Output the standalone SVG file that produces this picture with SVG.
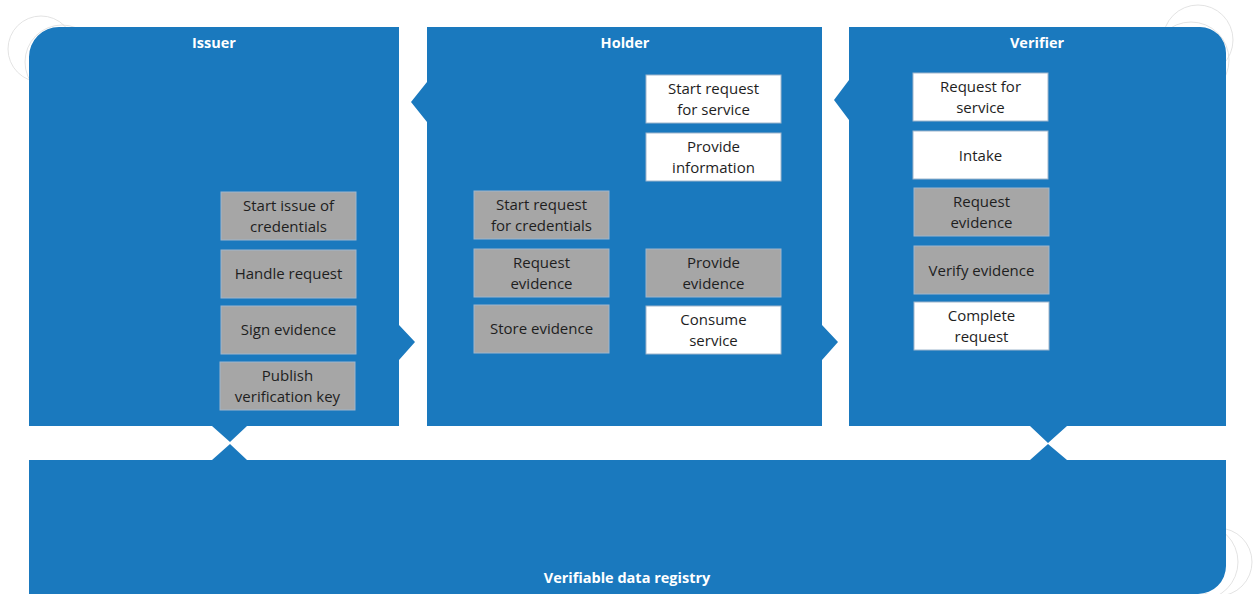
<svg xmlns="http://www.w3.org/2000/svg" width="1253" height="594" viewBox="0 0 1253 594">
  <style>
    .panel { fill: #1a79be; }
    .ghost { fill: none; stroke: #dcdcdc; stroke-width: 0.8; }
    .title { font-family: "Open Sans", "Liberation Sans", sans-serif; font-size: 14.5px; font-weight: bold; fill: #ffffff; text-anchor: middle; }
    .step { stroke: #9fb6cc; stroke-width: 1; }
    .grey { fill: #a6a6a6; }
    .white { fill: #ffffff; }
    .label { font-family: "Open Sans", "Liberation Sans", sans-serif; font-size: 15px; fill: #1e1e1e; text-anchor: middle; }
  </style>

  <rect width="1253" height="594" fill="#ffffff"/>

  <!-- faint corner outlines -->
  <g id="corner-outlines">
    <circle class="ghost" cx="41" cy="49" r="33"/>
    <circle class="ghost" cx="62" cy="62" r="37"/>
    <circle class="ghost" cx="1198" cy="40" r="35"/>
    <circle class="ghost" cx="1191" cy="60" r="38"/>
    <circle class="ghost" cx="1218" cy="562" r="34"/>
    <circle class="ghost" cx="1200" cy="562" r="38"/>
  </g>

  <!-- Issuer -->
  <g id="issuer">
    <path class="panel" d="M29,57 A30,30 0 0 1 59,27 L399,27 L399,325 L415,342 L399,360 L399,426 L247,426 L230,442 L212,426 L29,426 Z"/>
    <text class="title" x="214" y="48">Issuer</text>
    <g id="issuer-start">
      <rect class="step grey" x="221" y="192" width="135" height="48"/>
      <text class="label" x="288.5" y="211">Start issue of</text>
      <text class="label" x="288.5" y="232">credentials</text>
    </g>
    <g id="issuer-handle">
      <rect class="step grey" x="221" y="250" width="135" height="48"/>
      <text class="label" x="288.5" y="279">Handle request</text>
    </g>
    <g id="issuer-sign">
      <rect class="step grey" x="221" y="306" width="135" height="48"/>
      <text class="label" x="288.5" y="335">Sign evidence</text>
    </g>
    <g id="issuer-publish">
      <rect class="step grey" x="220" y="362" width="135" height="48"/>
      <text class="label" x="287.5" y="381">Publish</text>
      <text class="label" x="287.5" y="402">verification key</text>
    </g>
  </g>

  <!-- Holder -->
  <g id="holder">
    <path class="panel" d="M427,27 L822,27 L822,325 L838,342 L822,360 L822,426 L427,426 L427,122 L411,102 L427,82 Z"/>
    <text class="title" x="625" y="48">Holder</text>
    <g id="holder-start-service">
      <rect class="step white" x="646" y="75" width="135" height="48"/>
      <text class="label" x="713.5" y="94">Start request</text>
      <text class="label" x="713.5" y="115">for service</text>
    </g>
    <g id="holder-provide-info">
      <rect class="step white" x="646" y="133" width="135" height="48"/>
      <text class="label" x="713.5" y="152">Provide</text>
      <text class="label" x="713.5" y="173">information</text>
    </g>
    <g id="holder-start-credentials">
      <rect class="step grey" x="474" y="191" width="135" height="48"/>
      <text class="label" x="541.5" y="210">Start request</text>
      <text class="label" x="541.5" y="231">for credentials</text>
    </g>
    <g id="holder-request-evidence">
      <rect class="step grey" x="474" y="249" width="135" height="48"/>
      <text class="label" x="541.5" y="268">Request</text>
      <text class="label" x="541.5" y="289">evidence</text>
    </g>
    <g id="holder-store-evidence">
      <rect class="step grey" x="474" y="305" width="135" height="48"/>
      <text class="label" x="541.5" y="334">Store evidence</text>
    </g>
    <g id="holder-provide-evidence">
      <rect class="step grey" x="646" y="249" width="135" height="48"/>
      <text class="label" x="713.5" y="268">Provide</text>
      <text class="label" x="713.5" y="289">evidence</text>
    </g>
    <g id="holder-consume">
      <rect class="step white" x="646" y="306" width="135" height="48"/>
      <text class="label" x="713.5" y="325">Consume</text>
      <text class="label" x="713.5" y="346">service</text>
    </g>
  </g>

  <!-- Verifier -->
  <g id="verifier">
    <path class="panel" d="M849,27 L1200,27 A26,26 0 0 1 1226,53 L1226,426 L1067,426 L1048,443 L1030,426 L849,426 L849,120 L834,100 L849,80 Z"/>
    <text class="title" x="1037" y="48">Verifier</text>
    <g id="verifier-request-service">
      <rect class="step white" x="913" y="73" width="135" height="48"/>
      <text class="label" x="980.5" y="92">Request for</text>
      <text class="label" x="980.5" y="113">service</text>
    </g>
    <g id="verifier-intake">
      <rect class="step white" x="913" y="131" width="135" height="48"/>
      <text class="label" x="980.5" y="161">Intake</text>
    </g>
    <g id="verifier-request-evidence">
      <rect class="step grey" x="914" y="188" width="135" height="48"/>
      <text class="label" x="981.5" y="207">Request</text>
      <text class="label" x="981.5" y="228">evidence</text>
    </g>
    <g id="verifier-verify">
      <rect class="step grey" x="914" y="246" width="135" height="48"/>
      <text class="label" x="981.5" y="276">Verify evidence</text>
    </g>
    <g id="verifier-complete">
      <rect class="step white" x="914" y="302" width="135" height="48"/>
      <text class="label" x="981.5" y="321">Complete</text>
      <text class="label" x="981.5" y="342">request</text>
    </g>
  </g>

  <!-- Verifiable data registry -->
  <g id="registry">
    <path class="panel" d="M29,460 L212,460 L230,444 L247,460 L1030,460 L1048,444 L1067,460 L1226,460 L1226,566 A28,28 0 0 1 1198,594 L29,594 Z"/>
    <text class="title" x="627" y="583">Verifiable data registry</text>
  </g>

  <!-- connectors: the panel notches carry the flow; no separate lines are drawn -->
  <g id="connectors"></g>
</svg>
